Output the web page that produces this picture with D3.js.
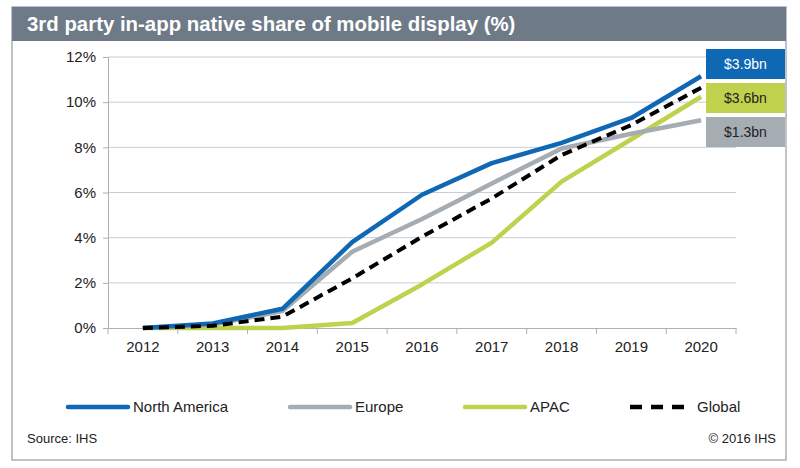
<!DOCTYPE html>
<html><head><meta charset="utf-8">
<script src="https://cdn.jsdelivr.net/npm/d3@7"></script>
<style>body{margin:0;background:#fff}svg{display:block}text{font-family:"Liberation Sans",Arial,sans-serif}</style>
</head><body><svg id="c" width="800" height="468"></svg>
<script>
const years = ["2012","2013","2014","2015","2016","2017","2018","2019","2020"];
const northAmerica = [0, 0.2, 0.85, 3.8, 5.9, 7.3, 8.2, 9.3, 11.15];
const europe = [0, 0.15, 0.75, 3.38, 4.83, 6.4, 7.95, 8.6, 9.2];
const apac = [0, 0, 0, 0.22, 1.93, 3.78, 6.48, 8.36, 10.24];
const global = [0, 0.1, 0.5, 2.2, 4.04, 5.74, 7.66, 8.99, 10.64];
const yTicks = [0, 2, 4, 6, 8, 10, 12];
const seriesNames = ["North America", "Europe", "APAC", "Global"];
const endLabels = ["$3.9bn", "$3.6bn", "$1.3bn"];

const colors = {"North America":"#0f68b4","Europe":"#a5acb2","APAC":"#bfd14d","Global":"#000"};
const svg = d3.select("#c");

// frame
svg.append("rect").attr("x",12).attr("y",7).attr("width",774).attr("height",453)
  .attr("fill","#fff").attr("stroke","#a9b0b8").attr("stroke-width",1.5);
svg.append("rect").attr("x",12).attr("y",7).attr("width",774).attr("height",34).attr("fill","#6e7a87");
svg.append("text").attr("x",27).attr("y",31).attr("fill","#fff").attr("font-size",20.4).attr("font-weight","bold")
  .text("3rd party in-app native share of mobile display (%)");

const x = d3.scaleBand().domain(years).range([108,736]);
const y = d3.scaleLinear().domain([0,12]).range([328,57]);

// grid
svg.append("g").selectAll("line").data(yTicks.filter(d=>d>0)).join("line")
  .attr("x1",108).attr("x2",736).attr("y1",d=>y(d)).attr("y2",d=>y(d))
  .attr("stroke","#c9ced3").attr("stroke-width",1);

const yAxis = svg.append("g").attr("transform","translate(108,0)")
  .call(d3.axisLeft(y).tickValues(yTicks).tickFormat(d=>d+"%").tickSize(5).tickPadding(7));
const xAxis = svg.append("g").attr("transform","translate(0,328)")
  .call(d3.axisBottom(x).tickSize(0).tickPadding(13));
// x ticks at band boundaries
svg.append("g").selectAll("line").data(years.concat(["end"])).join("line")
  .attr("x1",(d,i)=>108+i*x.step()).attr("x2",(d,i)=>108+i*x.step())
  .attr("y1",328).attr("y2",334).attr("stroke","#a9b0b8");
[yAxis,xAxis].forEach(g=>{
  g.selectAll(".domain").attr("stroke","#a9b0b8");
  g.selectAll(".tick line").attr("stroke","#a9b0b8");
  g.selectAll("text").attr("font-size",15).attr("fill","#222").attr("font-family","Liberation Sans, Arial, sans-serif");
});

const line = d3.line().x((d,i)=>x(years[i])+x.bandwidth()/2).y(d=>y(d));
const data = {"North America":northAmerica,"Europe":europe,"APAC":apac,"Global":global};
["APAC","Europe","North America","Global"].forEach(k=>{
  const p = svg.append("path").attr("d",line(data[k])).attr("fill","none")
    .attr("stroke",colors[k]).attr("stroke-width",k==="Global"?4:4.5).attr("stroke-linejoin","round");
  if(k==="Global") p.attr("stroke-dasharray","10,6");
});

// end labels
const boxColors = ["#0f68b4","#bfd14d","#a5acb2"];
const textColors = ["#fff","#222","#222"];
const boxY = [49, 83, 117];
endLabels.forEach((t,i)=>{
  svg.append("rect").attr("x",706).attr("y",boxY[i]).attr("width",79).attr("height",30).attr("fill",boxColors[i]);
  svg.append("text").attr("x",745.5).attr("y",boxY[i]+20).attr("text-anchor","middle")
    .attr("font-size",14).attr("fill",textColors[i]).text(t);
});

// legend
const legX = [68, 290, 465, 628];
seriesNames.forEach((k,i)=>{
  const l = svg.append("line").attr("x1",legX[i]).attr("x2",legX[i]+60).attr("y1",407).attr("y2",407)
    .attr("stroke",colors[k]).attr("stroke-width",4.5).attr("stroke-linecap","round");
  if(k==="Global") l.attr("stroke-dasharray","12,9").attr("x1",legX[i]+2).attr("x2",legX[i]+58).attr("stroke-linecap","butt");
  svg.append("text").attr("x",legX[i]+(k==="Global"?69:65)).attr("y",412).attr("font-size",15).attr("fill","#222").text(k);
});

svg.append("text").attr("x",27).attr("y",443).attr("font-size",13).attr("fill","#222").text("Source: IHS");
svg.append("text").attr("x",776).attr("y",443).attr("text-anchor","end").attr("font-size",13).attr("fill","#222").text("© 2016 IHS");
</script></body></html>
